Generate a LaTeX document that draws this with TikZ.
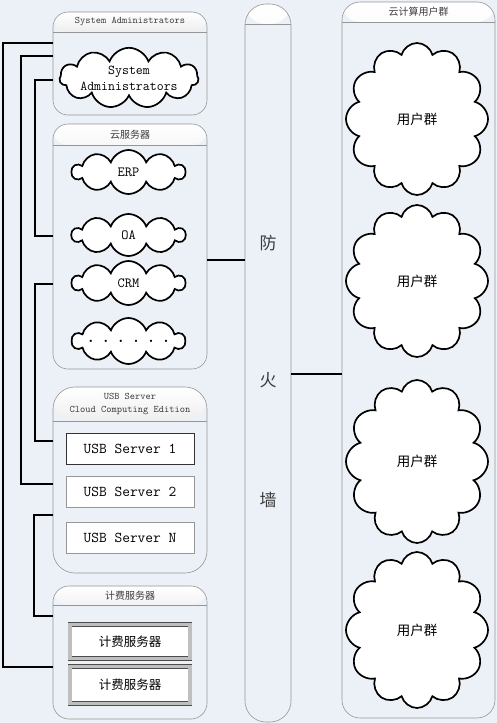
\documentclass[tikz,border=0pt]{standalone}
\usepackage{fontspec}
\newfontfamily\cjk{Noto Sans CJK SC}
\usetikzlibrary{shapes.symbols,calc}
\definecolor{bg}{RGB}{236,241,248}
\definecolor{frm}{RGB}{150,150,150}
\definecolor{hdr}{RGB}{165,165,165}
\definecolor{ttl}{RGB}{60,60,60}
\begin{document}
\begin{tikzpicture}[x=1pt,y=-1pt,
  container/.style={draw=frm, line width=0.6pt, fill=bg, outer sep=0pt, inner sep=0pt,
    path picture={\shade[top color=white, bottom color=hdr]
        (path picture bounding box.north west) rectangle ([yshift=-#1]path picture bounding box.north east);
      \draw[frm, line width=0.8pt] ([yshift=-#1]path picture bounding box.north west) -- ([yshift=-#1]path picture bounding box.north east);}},
  title/.style={text=ttl, font=\fontsize{10}{11}\selectfont, inner sep=0pt, align=center},
  cloudbox/.style={cloud, draw=black, line width=1.7pt, fill=white, cloud ignores aspect,
    inner sep=0pt, outer sep=0pt},
  usbbox/.style={draw=frm, line width=0.8pt, fill=white, minimum width=128pt, minimum height=31pt,
    inner sep=0pt, font=\ttfamily\fontsize{15}{17}\selectfont},
  billbox/.style={draw=gray!60!black, line width=0.6pt, double=gray!50, double distance=3.5pt,
    fill=white, minimum width=120pt, inner sep=0pt, font=\cjk\fontsize{12.5}{14}\selectfont},
  conn/.style={draw=black, line width=1.6pt},
  ]
\fill[bg] (0,0) rectangle (497,723);
\useasboundingbox (0,0) rectangle (497,723);

% containers
\node[container=20pt, rounded corners=15pt, minimum width=154pt, minimum height=103pt] (sa) at (130,63.5) {};
\node[container=21pt, rounded corners=15pt, minimum width=154pt, minimum height=245pt] (cs) at (130,246.5) {};
\node[container=34pt, rounded corners=22pt, minimum width=154pt, minimum height=186pt] (usb) at (130,480) {};
\node[container=19pt, rounded corners=16pt, minimum width=154pt, minimum height=133pt] (bill) at (130,652.5) {};
\node[container=20pt, rounded corners=21pt, minimum width=46pt, minimum height=718pt] (fw) at (268,363) {};
\node[container=20pt, rounded corners=18pt, minimum width=153pt, minimum height=716pt] (ug) at (418.5,360) {};

% titles
\node[title, font=\ttfamily\fontsize{10}{11}\selectfont] (tsa) at (130,22) {System Administrators};
\node[title, font=\cjk\fontsize{10}{11}\selectfont] (tcs) at (130,134.5) {云服务器};
\node[title, font=\ttfamily\fontsize{10}{13}\selectfont] (tusb) at (130,404) {USB Server\\Cloud Computing Edition};
\node[title, font=\cjk\fontsize{10}{11}\selectfont] (tbill) at (130,595.5) {计费服务器};
\node[title, font=\cjk\fontsize{10}{11}\selectfont] (tug) at (418.5,12) {云计算用户群};

% firewall text
\node[text=ttl, font=\cjk\fontsize{17}{18}\selectfont] (f1) at (268,243) {防};
\node[text=ttl, font=\cjk\fontsize{17}{18}\selectfont] (f2) at (268,380) {火};
\node[text=ttl, font=\cjk\fontsize{17}{18}\selectfont] (f3) at (268,500) {墙};

% clouds
\node[cloudbox, cloud puffs=11, cloud puff arc=140, minimum width=128pt, minimum height=60pt,
  align=center, font=\ttfamily\fontsize{13.5}{16}\selectfont] (csa) at (129,78) {System\\Administrators};
\node[cloudbox, cloud puffs=10, cloud puff arc=140, minimum width=113pt, minimum height=44pt,
  font=\ttfamily\fontsize{14}{15}\selectfont] (erp) at (128.5,172) {ERP};
\node[cloudbox, cloud puffs=10, cloud puff arc=140, minimum width=113pt, minimum height=42pt,
  font=\ttfamily\fontsize{14}{15}\selectfont] (oa) at (128.5,235) {OA};
\node[cloudbox, cloud puffs=10, cloud puff arc=140, minimum width=113pt, minimum height=44pt,
  font=\ttfamily\fontsize{14}{15}\selectfont] (crm) at (128.5,283) {CRM};
\node[cloudbox, cloud puffs=10, cloud puff arc=140, minimum width=113pt, minimum height=46pt,
  font=\bfseries\fontsize{16}{16}\selectfont] (dots) at (128.5,341)
  {.\hspace{10pt}.\hspace{10pt}.\hspace{10pt}.\hspace{10pt}.\hspace{10pt}.};

\node[cloudbox, cloud puffs=12, cloud puff arc=150, minimum width=142pt, minimum height=152pt,
  font=\cjk\fontsize{13.5}{15}\selectfont] (u1) at (417,119) {用户群};
\node[cloudbox, cloud puffs=12, cloud puff arc=150, minimum width=142pt, minimum height=152pt,
  font=\cjk\fontsize{13.5}{15}\selectfont] (u2) at (417,281) {用户群};
\node[cloudbox, cloud puffs=12, cloud puff arc=150, minimum width=142pt, minimum height=163pt,
  font=\cjk\fontsize{13.5}{15}\selectfont] (u3) at (417,461.5) {用户群};
\node[cloudbox, cloud puffs=12, cloud puff arc=150, minimum width=142pt, minimum height=156pt,
  font=\cjk\fontsize{13.5}{15}\selectfont] (u4) at (417,630) {用户群};

% usb boxes
\node[usbbox, draw=gray!40!black] (usb1) at (130,448.5) {USB Server 1};
\node[usbbox] (usb2) at (130,492) {USB Server 2};
\node[usbbox] (usbn) at (130,538) {USB Server N};

% billing boxes
\node[billbox, minimum height=34pt] (b1) at (130,641.5) {计费服务器};
\node[billbox, minimum height=37pt] (b2) at (130,685) {计费服务器};

% connectors
\draw[conn] ($(sa.north west)+(0,31)$) -- ++(-50,0) |- ($(bill.north west)+(0,81)$);
\draw[conn] ($(sa.north west)+(0,44)$) -- ++(-32,0) |- ($(usb.north west)+(0,97)$);
\draw[conn] ($(sa.north west)+(0,68)$) -- ++(-18,0) |- ($(cs.north west)+(0,112)$);
\draw[conn] ($(cs.north west)+(0,160)$) -- ++(-18,0) |- ($(usb.north west)+(0,54)$);
\draw[conn] ($(usb.north west)+(0,128)$) -- ++(-19,0) |- ($(bill.north west)+(0,30)$);

\coordinate (c1) at ($(cs.north east)+(0,136)$);
\draw[conn] (c1) -- (c1 -| fw.west);
\coordinate (c2) at ($(fw.north east)+(0,370)$);
\draw[conn] (c2) -- (c2 -| ug.west);
\end{tikzpicture}
\end{document}
